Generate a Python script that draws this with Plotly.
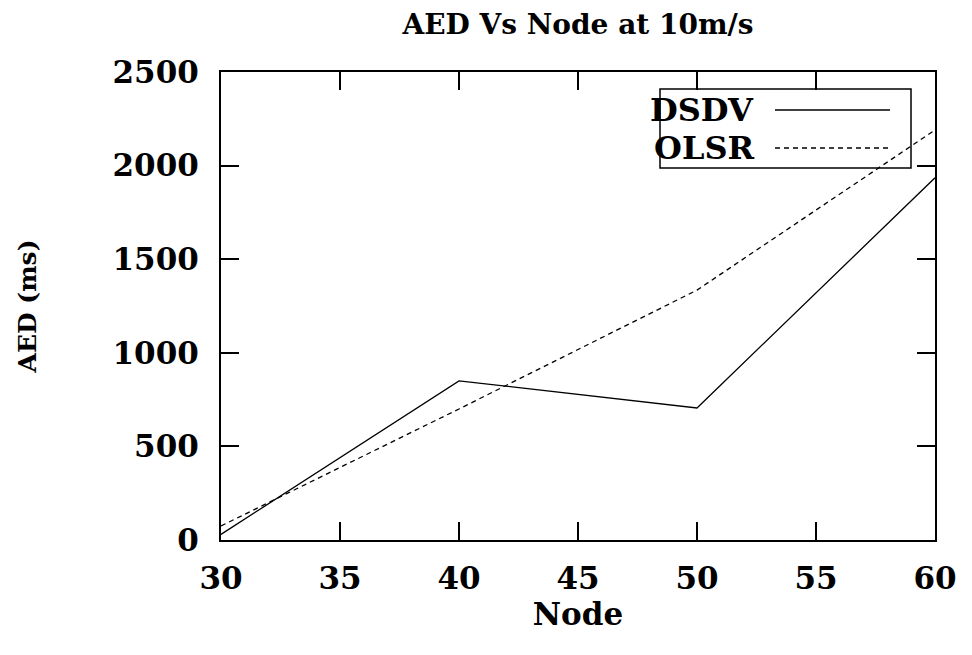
import plotly.graph_objects as go

nodes = [30, 40, 50, 60]
dsdv = [30, 850, 705, 1935]
olsr = [75, 700, 1335, 2190]
series_names = ["DSDV", "OLSR"]
x_ticks = [30, 35, 40, 45, 50, 55, 60]
y_ticks = [0, 500, 1000, 1500, 2000, 2500]

FONT = "DejaVu Serif"
OFF = 8  # page body margin
WIN_W, WIN_H = 972, 655
W, H = WIN_W - OFF, WIN_H - OFF
# plot area in window pixels: x 221..935, y 72..540
L, T = 221 - OFF, 72 - OFF
R = OFF + W - 935
B = OFF + H - 540
pw, ph = 935 - 221, 540 - 72

def px(x):
    return (x - 221) / pw

def py(y):
    return (540 - y) / ph

fig = go.Figure()
fig.add_trace(go.Scatter(x=nodes, y=dsdv, name=series_names[0], mode="lines",
                         line=dict(color="black", width=1.3), showlegend=False))
fig.add_trace(go.Scatter(x=nodes, y=olsr, name=series_names[1], mode="lines",
                         line=dict(color="black", width=1.3, dash="5px,4px"), showlegend=False))

axis_common = dict(showline=True, linecolor="black", linewidth=2, mirror="allticks",
                   ticks="inside", ticklen=18, tickwidth=1.5, tickcolor="black",
                   showgrid=False, zeroline=False,
                   tickfont=dict(family=FONT, size=31, color="black", weight="bold"))

fig.update_xaxes(range=[30, 60], tickvals=x_ticks, ticktext=[str(v) for v in x_ticks],
                 title=dict(text="<b>Node</b>", font=dict(family=FONT, size=31, color="black"), standoff=1),
                 ticklabelstandoff=10, **axis_common)
fig.update_yaxes(range=[0, 2500], tickvals=y_ticks, ticktext=[str(v) for v in y_ticks],
                 title=dict(text="<b>AED (ms)</b>", font=dict(family=FONT, size=25, color="black"), standoff=69),
                 ticklabelstandoff=14, **axis_common)

# legend (gnuplot style: text then sample line)
shapes = [dict(type="rect", xref="paper", yref="paper", x0=px(660), x1=px(911), y0=py(168), y1=py(89),
               line=dict(color="black", width=1.5), fillcolor="rgba(0,0,0,0)")]
annotations = []
for i, (nm, dash) in enumerate(zip(series_names, ["solid", "5px,4px"])):
    yc = [110, 148][i]
    shapes.append(dict(type="line", xref="paper", yref="paper", x0=px(775), x1=px(890),
                       y0=py(yc), y1=py(yc), line=dict(color="black", width=1.5, dash=dash)))
    annotations.append(dict(text="<b>" + nm + "</b>", xref="paper", yref="paper", x=px(756), y=py(yc),
                            xanchor="right", yanchor="middle", showarrow=False,
                            font=dict(family=FONT, size=32, color="black")))

fig.update_layout(
    width=W, height=H, template="none",
    margin=dict(l=L, r=R, t=T, b=B),
    paper_bgcolor="white", plot_bgcolor="white",
    title=dict(text="<b>AED Vs Node at 10m/s</b>", x=(578 - OFF) / W, xanchor="center",
               y=1 - (24 - OFF) / H, yanchor="middle", font=dict(family=FONT, size=28, color="black")),
    shapes=shapes, annotations=annotations,
)

fig.write_html("out.html")
